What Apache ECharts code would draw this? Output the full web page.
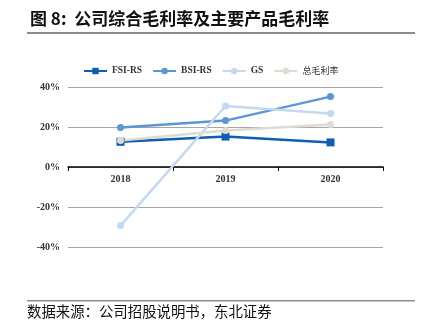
<!DOCTYPE html>
<html>
<head>
<meta charset="utf-8">
<script src="https://cdn.jsdelivr.net/npm/echarts@6/dist/echarts.min.js"></script>
<style>
  html, body { margin: 0; padding: 0; background: #fff; }
  #chart { width: 423px; height: 326px; }
</style>
</head>
<body>
<div id="chart"></div>
<script>
// Gross margin by product line, 2018–2020 (%)
const years = ['2018', '2019', '2020'];
const fsiRs = [12.6, 15.2, 12.3];
const bsiRs = [19.7, 23.2, 35.2];
const gs = [-29.3, 30.5, 26.7];
const totalMargin = [13.2, 18.2, 21.2];
const seriesNames = ['FSI-RS', 'BSI-RS', 'GS', '总毛利率'];
const yTicks = [-40, -20, 0, 20, 40];

const colors = ['#0F5CB0', '#5B97D2', '#C4D9EF', '#DEDBD3'];
const serif = '"Liberation Serif", "Times New Roman", serif';
const cjk = '"Noto Sans CJK SC", sans-serif';

function lineSeries(name, data, color, symbol, size) {
  return {
    name: name,
    type: 'line',
    data: data,
    symbol: symbol,
    symbolSize: size,
    lineStyle: { color: color, width: 2.5 },
    itemStyle: { color: color },
    emphasis: { disabled: true }
  };
}

const chart = echarts.init(document.getElementById('chart'), null, { renderer: 'canvas' });
chart.setOption({
  animation: false,
  color: colors,
  title: {
    text: '图 8:  公司综合毛利率及主要产品毛利率',
    left: 25,
    top: 5,
    textStyle: { fontFamily: cjk, fontSize: 17, fontWeight: 'bold', color: '#111' }
  },
  graphic: [
    { type: 'rect', shape: { x: 27, y: 32, width: 388, height: 2 }, style: { fill: '#8C8C8C' } },
    { type: 'rect', shape: { x: 27, y: 300, width: 388, height: 1.5 }, style: { fill: '#8C8C8C' } },
    {
      type: 'text', left: 27, top: 304,
      style: { text: '数据来源：公司招股说明书，东北证券', font: '14.4px ' + cjk, fill: '#111' }
    }
  ],
  legend: {
    data: seriesNames.map((n, i) => i === 3
      ? { name: n, textStyle: { fontFamily: cjk, fontSize: 9, fontWeight: 'normal', color: '#333' } }
      : { name: n }),
    top: 66,
    left: 83,
    padding: 0,
    itemWidth: 23,
    itemHeight: 8,
    itemGap: 10,
    textStyle: { fontFamily: serif, fontSize: 9.5, fontWeight: 'bold', color: '#333' }
  },
  grid: { left: 68, right: 40, top: 87, bottom: 79 },
  xAxis: {
    type: 'category',
    data: years,
    boundaryGap: true,
    position: 'bottom',
    // sits on the 0% line, labels included
    offset: -80,
    axisLine: { onZero: false, lineStyle: { color: '#000', width: 1.5 } },
    axisTick: { show: true, length: 4, lineStyle: { color: '#000' } },
    axisLabel: { margin: 7, fontFamily: serif, fontSize: 10, fontWeight: 'bold', color: '#333' },
    splitLine: { show: false }
  },
  yAxis: {
    type: 'value',
    min: yTicks[0],
    max: yTicks[yTicks.length - 1],
    interval: 20,
    axisLine: { show: false },
    axisTick: { show: false },
    axisLabel: {
      margin: 8,
      fontFamily: serif, fontSize: 10, fontWeight: 'bold', color: '#333',
      formatter: v => v + '%'
    },
    splitLine: { lineStyle: { color: '#A6A6A6', width: 1 } }
  },
  series: [
    lineSeries(seriesNames[0], fsiRs, colors[0], 'rect', 8),
    lineSeries(seriesNames[1], bsiRs, colors[1], 'circle', 7),
    lineSeries(seriesNames[2], gs, colors[2], 'circle', 7),
    lineSeries(seriesNames[3], totalMargin, colors[3], 'circle', 7)
  ]
});
</script>
</body>
</html>
